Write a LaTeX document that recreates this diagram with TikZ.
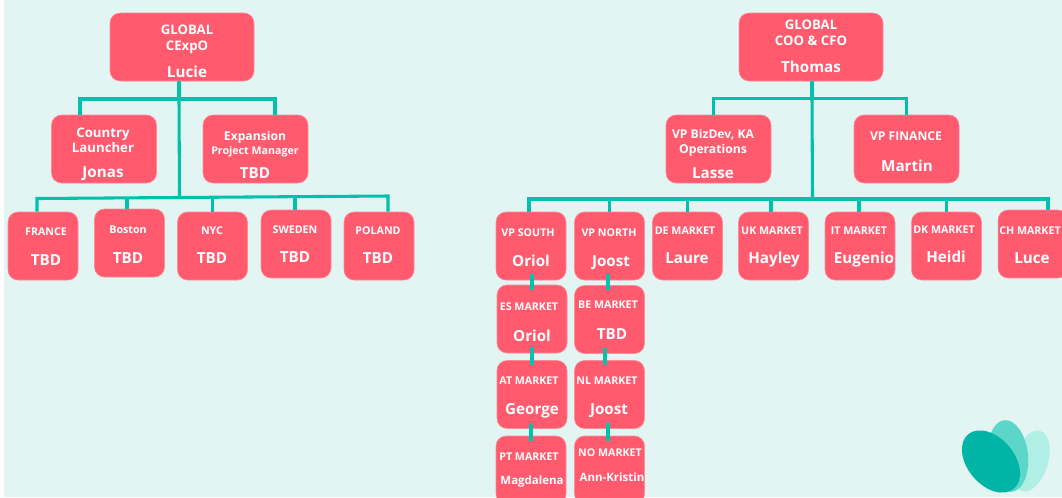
\documentclass[tikz,border=0pt]{standalone}
\usepackage{fontspec}
\setmainfont{Open Sans}
\definecolor{bgc}{HTML}{E2F5F3}
\definecolor{boxc}{HTML}{FF5A6E}
\definecolor{linec}{HTML}{00C2AC}
\definecolor{logoA}{HTML}{00B5A5}
\definecolor{logoB}{HTML}{5BD6C8}
\definecolor{logoC}{HTML}{B0EFE6}
\tikzset{
  x=0.75pt,y=-0.75pt,
  card/.style={fill=boxc,draw=boxc!70!white,line width=0.4pt,rounded corners=7.5pt,minimum height=51pt,inner sep=0pt},
  bigcard/.style={card,minimum width=108pt},
  midcard/.style={card,minimum width=78.75pt},
  smallcard/.style={card,minimum width=52.5pt},
  lbl/.style={text=white,inner sep=0pt,text height=.75em,text depth=.2em},
  ttl/.style={lbl,yshift=-1.3pt,font=\bfseries\fontsize{9.9}{10}\selectfont},
  sub/.style={lbl,yshift=-1.3pt,font=\bfseries\fontsize{9.1}{10}\selectfont},
  mkt/.style={lbl,yshift=-.4pt,font=\bfseries\fontsize{8}{9}\selectfont},
  who/.style={lbl,yshift=-2pt,font=\bfseries\fontsize{11.4}{12}\selectfont},
  whosm/.style={lbl,yshift=-.75pt,font=\bfseries\fontsize{8.6}{10}\selectfont},
  wire/.style={draw=linec,line width=2.3pt,line join=miter},
  stem/.style={draw=linec,line width=3pt},
  link/.style={draw=linec,line width=3pt,shorten <=-4.5pt,shorten >=-3.75pt}
}
\begin{document}
\begin{tikzpicture}
\clip (0,0) rectangle (1062,497);
\fill[white] (0,0) rectangle (1062,497);
\fill[bgc] (4,0) rectangle (1062,497);
% logo
\fill[logoC,rotate around={-107:(1031,461)}] (1031,461) ellipse (31.5 and 17);
\fill[logoB,rotate around={-84:(1008,456)}] (1008,456) ellipse (36 and 20);
\fill[logoA,rotate around={-50:(991,461.5)}] (991,461.5) ellipse (35.5 and 23.5);
% left tree
\node[bigcard] (lucie) at (182,47) {};
\node[midcard] (jonas) at (104,149) {};
\node[midcard] (lprm) at (255.5,149) {};
\node[smallcard] (france) at (43,246) {};
\node[smallcard] (boston) at (129.5,243) {};
\node[smallcard] (nyc) at (212.5,246) {};
\node[smallcard] (sweden) at (296,244) {};
\node[smallcard] (poland) at (379,246) {};
% right tree
\node[bigcard] (thomas) at (811,47) {};
\node[midcard] (lasse) at (718.5,149) {};
\node[midcard] (martin) at (906.5,149) {};
\node[smallcard] (south) at (531,246) {};
\node[smallcard] (north) at (609.5,246) {};
\node[smallcard] (de) at (687.5,246) {};
\node[smallcard] (uk) at (773.5,246) {};
\node[smallcard] (it) at (860,246) {};
\node[smallcard] (dk) at (946.5,246) {};
\node[smallcard] (ch) at (1033,244) {};
\node[smallcard] (es) at (532,319) {};
\node[smallcard] (be) at (609.5,319.5) {};
\node[smallcard] (at) at (532,394.5) {};
\node[smallcard] (nl) at (609.5,394.5) {};
\node[smallcard] (pt) at (531,470) {};
\node[smallcard] (no) at (609.5,470) {};
% left connectors
\coordinate (lbusa) at (179,99);
\coordinate (lbusb) at (179.5,197);
\coordinate (lbusl) at (37,198.5);
\coordinate (lbusr) at (388,196);
\draw[stem] ([xshift=-2.6pt]lucie.south) -- ([xshift=-2.6pt]lucie.south |- lbusa);
\draw[wire] (lbusa) -- (lbusb);
\draw[wire] ([xshift=-18pt]jonas.north) -- ([xshift=-18pt]jonas.north |- lbusa) -- ([xshift=14.6pt]lprm.north |- lbusa) -- ([xshift=14.6pt]lprm.north);
\draw[wire] ([xshift=-4.5pt]france.north) -- ([xshift=-4.5pt]france.north |- lbusl) -- ([xshift=6.75pt]poland.north |- lbusr) -- ([xshift=6.75pt]poland.north);
\draw[wire] ([xshift=-1.9pt]boston.north) -- ([xshift=-1.9pt]boston.north |- lbusb);
\draw[wire] (nyc.north) -- (nyc.north |- lbusb);
\draw[wire] ([xshift=-.75pt]sweden.north) -- ([xshift=-.75pt]sweden.north |- lbusb);
% right connectors
\coordinate (rbusa) at (812,98.5);
\coordinate (rbusb) at (812.5,199);
\draw[stem] ([xshift=.4pt]thomas.south) -- ([xshift=.4pt]thomas.south |- rbusa);
\draw[wire] (rbusa) -- (rbusb);
\draw[wire] ([xshift=-4.1pt]lasse.north) -- ([xshift=-4.1pt]lasse.north |- rbusa) -- (martin.north |- rbusa) -- (martin.north);
\draw[wire] ([xshift=-1.5pt]south.north) -- ([xshift=-1.5pt]south.north |- rbusb) -- ([xshift=11.25pt]ch.north |- rbusb) -- ([xshift=11.25pt]ch.north);
\draw[wire] (north.north) -- (north.north |- rbusb);
\draw[wire] (de.north) -- (de.north |- rbusb);
\draw[wire] ([xshift=-1.9pt]uk.north) -- ([xshift=-1.9pt]uk.north |- rbusb);
\draw[wire] ([xshift=-.75pt]it.north) -- ([xshift=-.75pt]it.north |- rbusb);
\draw[wire] (dk.north) -- (dk.north |- rbusb);
\draw[link] ([xshift=.75pt]south.south) -- ([xshift=.75pt]south.south |- es.north);
\draw[link] (es.south) -- (at.north);
\draw[link] ([xshift=-.75pt]at.south) -- ([xshift=-.75pt]at.south |- pt.north);
\draw[link] ([xshift=-1.1pt]north.south) -- ([xshift=-1.1pt]north.south |- be.north);
\draw[link] ([xshift=-3.4pt]be.south) -- ([xshift=-3.4pt]be.south |- nl.north);
\draw[link] ([xshift=-1.1pt]nl.south) -- ([xshift=-1.1pt]nl.south |- no.north);
% left texts
\node[ttl] (t1) at (187,29) {GLOBAL};
\node[ttl] (t2) at (187,45) {CExpO};
\node[who] (t3) at (187,71) {Lucie};
\node[ttl] (t4) at (103,132) {Country};
\node[ttl] (t5) at (103,147) {Launcher};
\node[who] (t6) at (103,171) {Jonas};
\node[sub] (t7) at (255,135) {Expansion};
\node[mkt] (t8) at (255,150) {Project Manager};
\node[who] (t9) at (255,172) {TBD};
\node[mkt] (t10) at (46,231) {FRANCE};
\node[who] (t11) at (46,259) {TBD};
\node[mkt] (t12) at (128,229) {Boston};
\node[who] (t13) at (128,257) {TBD};
\node[mkt] (t14) at (212,230) {NYC};
\node[who] (t15) at (212,257) {TBD};
\node[mkt] (t16) at (295,229) {SWEDEN};
\node[who] (t17) at (295,256) {TBD};
\node[mkt] (t18) at (378,230) {POLAND};
\node[who] (t19) at (378,257) {TBD};
% right texts
\node[ttl] (r1) at (811,24) {GLOBAL};
\node[ttl] (r2) at (811,40) {COO \& CFO};
\node[who] (r3) at (811,66) {Thomas};
\node[sub] (r4) at (713,133) {VP BizDev, KA};
\node[sub] (r5) at (713,148) {Operations};
\node[who] (r6) at (713,172) {Lasse};
\node[sub] (r7) at (906,135) {VP FINANCE};
\node[who] (r8) at (907,165) {Martin};
\node[mkt] (r9) at (528,232) {VP SOUTH};
\node[who] (r10) at (531,260) {Oriol};
\node[mkt] (r11) at (609,232) {VP NORTH};
\node[who] (r12) at (611,260) {Joost};
\node[mkt] (r13) at (685,230) {DE MARKET};
\node[who] (r14) at (687,257) {Laure};
\node[mkt] (r15) at (772,230) {UK MARKET};
\node[who] (r16) at (774,257) {Hayley};
\node[mkt] (r17) at (859,230) {IT MARKET};
\node[who] (r18) at (864,257) {Eugenio};
\node[mkt] (r19) at (944,229) {DK MARKET};
\node[who] (r20) at (946,256) {Heidi};
\node[mkt] (r21) at (1030,230) {CH MARKET};
\node[who] (r22) at (1032,257) {Luce};
\node[mkt] (r23) at (529,306) {ES MARKET};
\node[who] (r24) at (532,335) {Oriol};
\node[mkt] (r25) at (608,304) {BE MARKET};
\node[who] (r26) at (612,333) {TBD};
\node[mkt] (r27) at (529,380) {AT MARKET};
\node[who] (r28) at (532,408) {George};
\node[mkt] (r29) at (607,380) {NL MARKET};
\node[who] (r30) at (609,408) {Joost};
\node[mkt] (r31) at (529,456) {PT MARKET};
\node[whosm] (r32) at (532,480) {Magdalena};
\node[mkt] (r33) at (610,452) {NO MARKET};
\node[whosm] (r34) at (612,477) {Ann-Kristin};
\end{tikzpicture}
\end{document}
